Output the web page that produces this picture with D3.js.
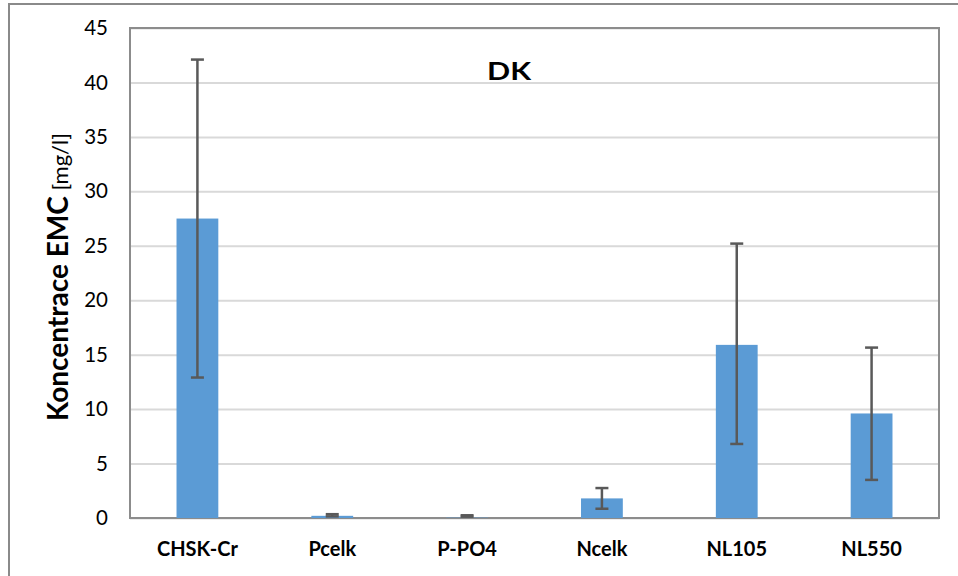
<!DOCTYPE html>
<html>
<head>
<meta charset="utf-8">
<script src="https://cdn.jsdelivr.net/npm/d3@7"></script>
<style>
  body { margin: 0; background: #fff; }
  svg { display: block; font-family: Lato, "Open Sans", sans-serif; }
</style>
</head>
<body>
<svg id="chart" width="958" height="576"></svg>
<script>
// data
var categories = ["CHSK-Cr", "Pcelk", "P-PO4", "Ncelk", "NL105", "NL550"];
var means = [27.5, 0.2, 0.03, 1.8, 15.9, 9.6];
var errLow = [12.9, 0.15, 0.12, 0.85, 6.8, 3.5];
var errHigh = [42.1, 0.35, 0.25, 2.75, 25.2, 15.65];
var yTicks = [0, 5, 10, 15, 20, 25, 30, 35, 40, 45];

var svg = d3.select("#chart");

// outer frame
svg.append("rect")
    .attr("x", 9).attr("y", 4)
    .attr("width", 960).attr("height", 590)
    .attr("fill", "none")
    .attr("stroke", "#8a8a8a")
    .attr("stroke-width", 2);

// plot area edges (window.top is reserved, so other names)
var pLeft = 130, pRight = 939, pTop = 28, pBottom = 518;

var x = d3.scaleBand().domain(categories).range([pLeft, pRight])
    .paddingInner(0.69).paddingOuter(0.345);
var y = d3.scaleLinear().domain([0, 45]).range([pBottom, pTop]);

// grid lines
var grid = svg.append("g")
    .attr("transform", "translate(" + pLeft + ",0)")
    .call(d3.axisLeft(y).tickValues(yTicks).tickSize(-(pRight - pLeft)).tickFormat(""));
grid.select(".domain").remove();
grid.selectAll("line").attr("stroke", "#d9d9d9").attr("stroke-width", 2);

// plot border
svg.append("rect")
    .attr("x", pLeft).attr("y", pTop)
    .attr("width", pRight - pLeft).attr("height", pBottom - pTop)
    .attr("fill", "none")
    .attr("stroke", "#8c8c8c")
    .attr("stroke-width", 2);

// bars
svg.selectAll(".bar").data(categories).enter()
    .append("rect")
    .attr("class", "bar")
    .attr("x", function (d) { return x(d); })
    .attr("y", function (d, i) { return y(means[i]); })
    .attr("width", x.bandwidth())
    .attr("height", function (d, i) { return pBottom - y(means[i]); })
    .attr("fill", "#5b9bd5");

// error bars
var eb = svg.selectAll(".err").data(categories).enter()
    .append("g").attr("class", "err")
    .attr("stroke", "#595959").attr("stroke-width", 2.5);
var cx = function (d) { return x(d) + x.bandwidth() / 2; };
eb.append("line")
    .attr("x1", cx).attr("x2", cx)
    .attr("y1", function (d, i) { return y(errLow[i]); })
    .attr("y2", function (d, i) { return y(errHigh[i]); });
eb.append("line")
    .attr("x1", function (d) { return cx(d) - 6.5; })
    .attr("x2", function (d) { return cx(d) + 6.5; })
    .attr("y1", function (d, i) { return y(errHigh[i]); })
    .attr("y2", function (d, i) { return y(errHigh[i]); });
eb.append("line")
    .attr("x1", function (d) { return cx(d) - 6.5; })
    .attr("x2", function (d) { return cx(d) + 6.5; })
    .attr("y1", function (d, i) { return y(errLow[i]); })
    .attr("y2", function (d, i) { return y(errLow[i]); });

// y axis labels
var yAxis = svg.append("g")
    .attr("transform", "translate(" + (pLeft - 22) + ",0)")
    .call(d3.axisLeft(y).tickValues(yTicks).tickSize(0).tickPadding(0));
yAxis.select(".domain").remove();
yAxis.selectAll("text")
    .attr("font-family", "Lato, sans-serif")
    .attr("font-size", "20.5px")
    .attr("fill", "#000");

// x axis labels
var xAxis = svg.append("g")
    .attr("transform", "translate(0," + pBottom + ")")
    .call(d3.axisBottom(x).tickSize(0).tickPadding(24));
xAxis.select(".domain").remove();
xAxis.selectAll("text")
    .attr("font-family", "Lato, sans-serif")
    .attr("font-size", "20px")
    .attr("font-weight", "bold")
    .attr("fill", "#000");

// title (wide bold face in the reference)
svg.append("text")
    .attr("x", 487).attr("y", 80)
    .attr("font-size", "25px")
    .attr("font-weight", "bold")
    .attr("textLength", 44)
    .attr("lengthAdjust", "spacingAndGlyphs")
    .text("DK");

// y title
var yt = svg.append("text")
    .attr("transform", "translate(68," + ((pTop + pBottom) / 2 + 4) + ") rotate(-90)")
    .attr("text-anchor", "middle");
yt.append("tspan").attr("font-size", "28px").attr("font-weight", "bold").text("Koncentrace EMC");
yt.append("tspan").attr("font-size", "22px").text(" [mg/l]");
</script>
</body>
</html>
